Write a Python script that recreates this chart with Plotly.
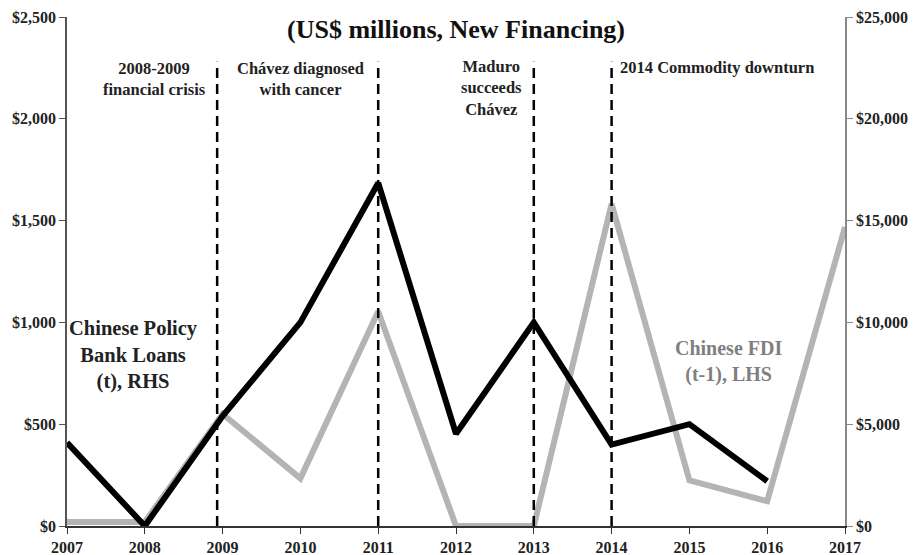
import plotly.graph_objects as go

years = [2007, 2008, 2009, 2010, 2011, 2012, 2013, 2014, 2015, 2016, 2017]
loans_rhs = [4100, 0, 5400, 10000, 16850, 4530, 10000, 4000, 5000, 2200, None]
fdi_lhs = [20, 20, 550, 234, 1054, 0, 0, 1582, 224, 122, 1468]

event_years = [2008.93, 2011, 2013, 2014]
event_top = 2280

left_ticks = [0, 500, 1000, 1500, 2000, 2500]
left_labels = ["$0", "$500", "$1,000", "$1,500", "$2,000", "$2,500"]
right_ticks = [0, 5000, 10000, 15000, 20000, 25000]
right_labels = ["$0", "$5,000", "$10,000", "$15,000", "$20,000", "$25,000"]

FONT = "Liberation Serif"

fig = go.Figure()
fig.add_trace(go.Scatter(x=years, y=fdi_lhs, mode="lines",
                         line=dict(color="#b5b3b3", width=6), yaxis="y",
                         showlegend=False))
fig.add_trace(go.Scatter(x=years, y=loans_rhs, mode="lines",
                         line=dict(color="#000000", width=6), yaxis="y2",
                         showlegend=False, connectgaps=False))

for ex in event_years:
    fig.add_shape(type="line", x0=ex, x1=ex, y0=0, y1=event_top, xref="x", yref="y",
                  line=dict(color="#000000", width=2.5, dash="10px,6px"), layer="above")

tick_font = dict(family=FONT, size=16, color="#222222")

fig.update_layout(
    width=915, height=547,
    margin=dict(l=59, r=78, t=9, b=29, autoexpand=False),
    paper_bgcolor="white", plot_bgcolor="white",
    font=dict(family=FONT),
    xaxis=dict(range=[2007, 2017], tickmode="array", tickvals=years,
               ticktext=[f"<b>{y}</b>" for y in years], automargin=False,
               showgrid=False, zeroline=False, showline=True, linecolor="#333333",
               linewidth=1.5, ticks="outside", ticklen=6, tickcolor="#333333",
               tickfont=tick_font, ticklabeloverflow="allow"),
    yaxis=dict(range=[0, 2500], tickmode="array", tickvals=left_ticks,
               ticktext=[f"<b>{t}</b>" for t in left_labels], automargin=False,
               showgrid=False, zeroline=False, showline=True, linecolor="#555555",
               linewidth=1.5, ticks="outside", ticklen=6, tickcolor="#555555",
               tickfont=tick_font, ticklabeloverflow="allow"),
    yaxis2=dict(range=[0, 25000], tickmode="array", tickvals=right_ticks,
                ticktext=[f"<b>{t}</b>" for t in right_labels], automargin=False,
                overlaying="y", side="right",
                showgrid=False, zeroline=False, showline=True, linecolor="#888888",
                linewidth=1.5, ticks="outside", ticklen=6, tickcolor="#888888",
                tickfont=tick_font, ticklabeloverflow="allow"),
)

def ann(text, x, y, size=14, color="#222222", xanchor="center", align="center"):
    fig.add_annotation(text=text, x=x, y=y, xref="x", yref="y", showarrow=False,
                       font=dict(family=FONT, size=size, color=color),
                       xanchor=xanchor, yanchor="middle", align=align)

# title
fig.add_annotation(text="<b>(US$ millions, New Financing)</b>", x=0.5, xref="paper",
                   y=2440, yref="y", showarrow=False,
                   font=dict(family=FONT, size=26, color="#111111"),
                   xanchor="center", yanchor="middle")

ann("<b>2008-2009<br>financial crisis</b>", 2008.13, 2195, size=16.5)
ann("<b>Chávez diagnosed<br>with cancer</b>", 2010.0, 2195, size=16.5)
ann("<b>Maduro<br>succeeds<br>Chávez</b>", 2012.45, 2150, size=16.5)
ann("<b>2014 Commodity downturn</b>", 2014.08, 2250, size=16.5, xanchor="left")
ann("<b>Chinese Policy<br>Bank Loans<br>(t), RHS</b>", 2007.85, 840, size=20.5)
ann("<b>Chinese FDI<br>(t-1), LHS</b>", 2015.5, 810, size=20, color="#7f7f7f")

fig.write_html("out.html")
